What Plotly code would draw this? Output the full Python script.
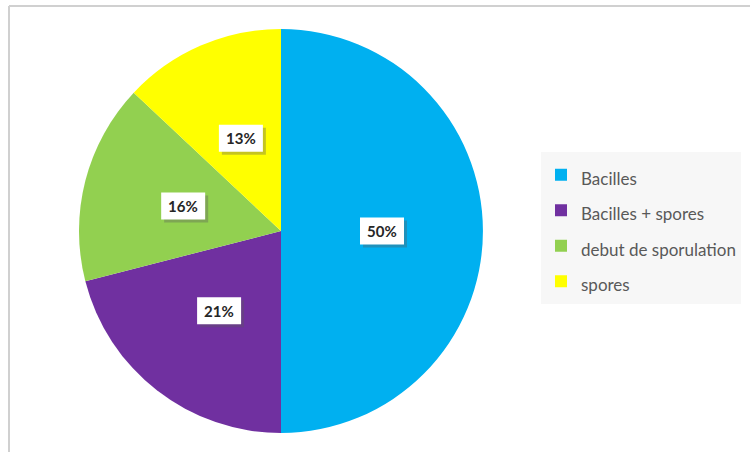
import math
import plotly.graph_objects as go

categories = ["Bacilles", "Bacilles + spores", "debut de sporulation", "spores"]
values = [50, 21, 16, 13]
colors = ["#00B0F0", "#7030A0", "#92D050", "#FFFF00"]

W, H = 750, 452
cx, cy, R = 281, 231, 202  # pie centre / radius in pixels
BW, BH = 44, 27            # label box size in pixels

fig = go.Figure()
legend_labels = [f'<span style="font-size:17px">{c}</span>' for c in categories]
fig.add_trace(go.Pie(
    labels=legend_labels,
    values=values,
    sort=False,
    direction="clockwise",
    rotation=0,
    marker=dict(colors=colors, line=dict(width=0)),
    textinfo="none",
    hoverinfo="label+percent",
    domain=dict(x=[(cx - R) / W, (cx + R) / W], y=[1 - (cy + R) / H, 1 - (cy - R) / H]),
))

shapes = [
    dict(type="line", xref="paper", yref="paper", x0=9 / W, x1=9 / W, y0=0, y1=1 - 6 / H,
         line=dict(color="#D0D0D0", width=2)),
    dict(type="line", xref="paper", yref="paper", x0=9 / W, x1=1, y0=1 - 6 / H, y1=1 - 6 / H,
         line=dict(color="#D0D0D0", width=2)),
]

# percentage labels in white boxes, placed at half radius of each slice's mid-angle
total = sum(values)
cum = 0
for v in values:
    mid = (cum + v / 2) / total * 2 * math.pi
    cum += v
    px = cx + 0.5 * R * math.sin(mid)
    py = cy - 0.5 * R * math.cos(mid)
    pct = f"{round(v / total * 100)}%"
    # soft shadow behind the box
    shapes.append(dict(type="rect", xref="paper", yref="paper", layer="above",
                       x0=(px - BW / 2 + 3) / W, x1=(px + BW / 2 + 3) / W,
                       y0=1 - (py + BH / 2 + 3) / H, y1=1 - (py - BH / 2 + 3) / H,
                       fillcolor="rgba(90,90,90,0.35)", line=dict(width=0)))
    shapes.append(dict(type="rect", xref="paper", yref="paper", layer="above",
                       x0=(px - BW / 2) / W, x1=(px + BW / 2) / W,
                       y0=1 - (py + BH / 2) / H, y1=1 - (py - BH / 2) / H,
                       fillcolor="white", line=dict(width=0)))
    fig.add_annotation(x=px / W, y=1 - py / H, xref="paper", yref="paper", showarrow=False,
                       xanchor="center", yanchor="middle",
                       text=f"<b>{pct}</b>", font=dict(family="Lato", size=15, color="#262626"))

fig.update_layout(
    width=W, height=H,
    margin=dict(l=0, r=0, t=0, b=0),
    paper_bgcolor="white",
    showlegend=True,
    legend=dict(
        x=541 / W, y=1 - 228 / H, xanchor="left", yanchor="middle",
        bgcolor="#F7F7F7",
        font=dict(family="Lato", size=25, color="#595959"),
        itemclick=False,
    ),
    shapes=shapes,
)

fig.write_html("out.html")
